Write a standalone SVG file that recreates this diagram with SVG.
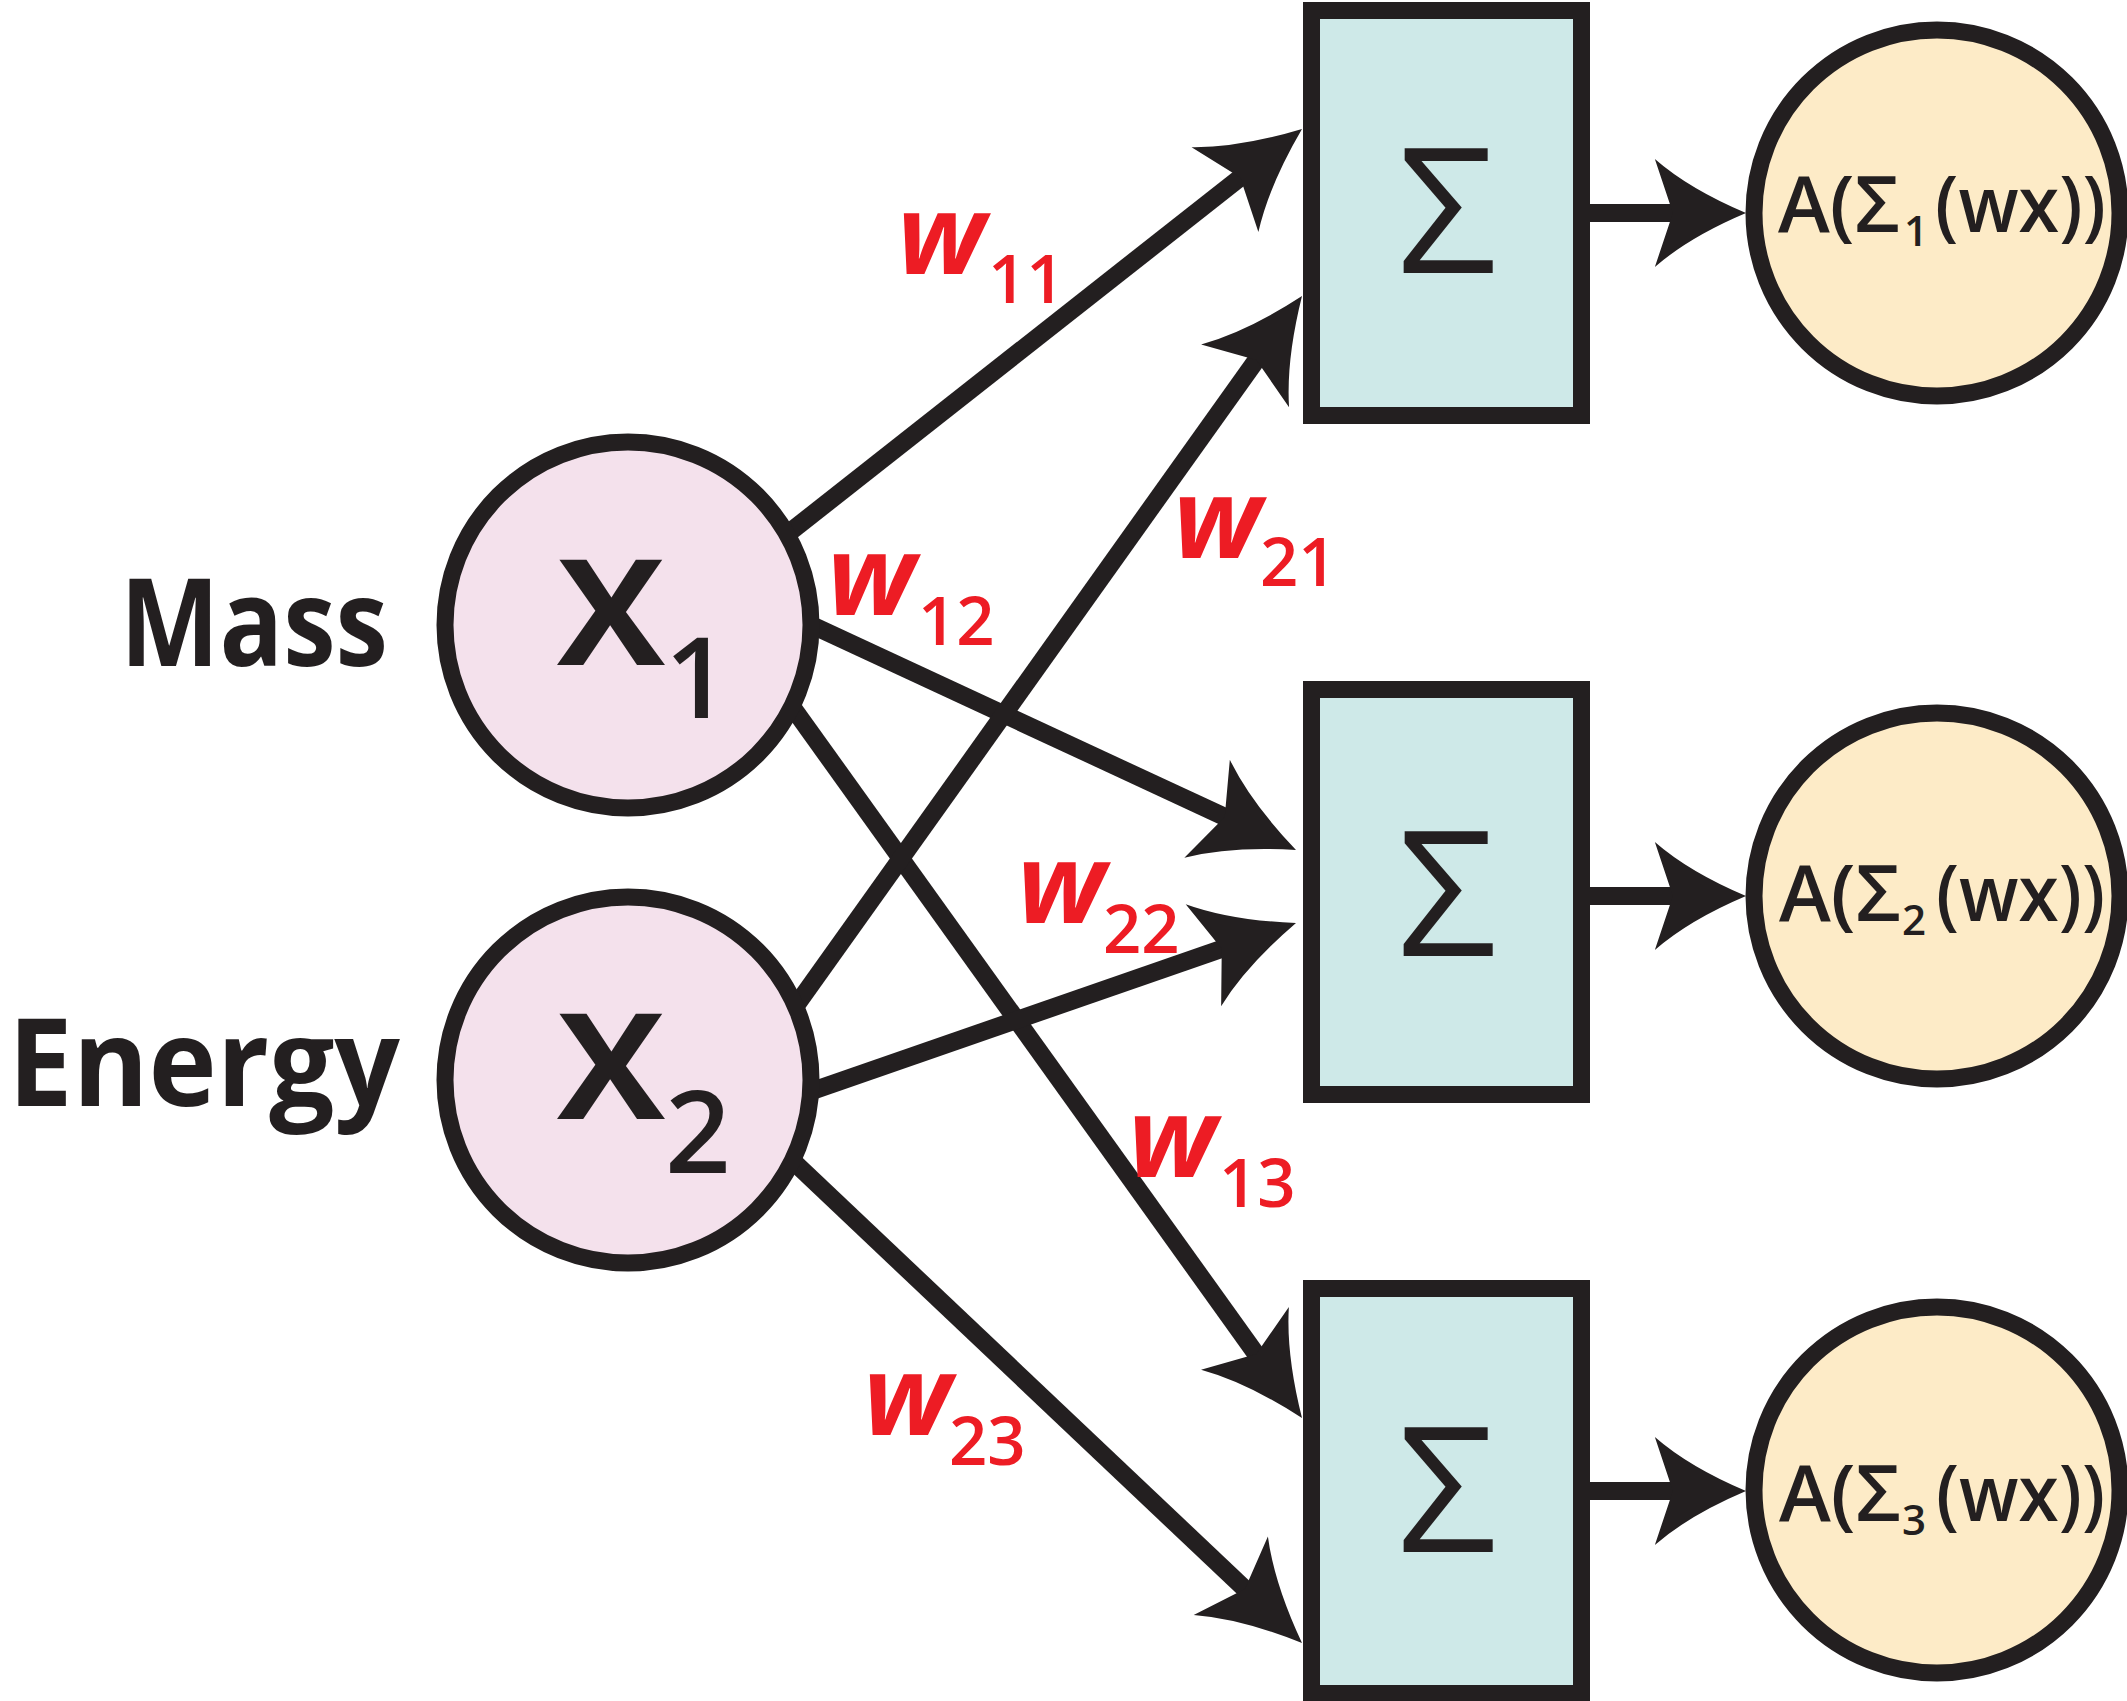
<svg xmlns="http://www.w3.org/2000/svg" xmlns:xlink="http://www.w3.org/1999/xlink" width="2127" height="1701" viewBox="0 0 2127 1701">
<style>
.ln{stroke:#231F20;stroke-width:18;fill:none;stroke-linecap:butt}
.ah{fill:#231F20}
.inp{fill:#F4E1EC;stroke:#231F20;stroke-width:17}
.sum{fill:#CEE9E8;stroke:#231F20;stroke-width:17}
.out{fill:#FDEBC7;stroke:#231F20;stroke-width:17}
.lab{font-family:"Open Sans","Noto Sans","Liberation Sans",sans-serif;fill:#231F20}
.w{font-family:"Open Sans","Noto Sans","Liberation Sans",sans-serif;fill:#ED1C24;font-weight:700;font-style:italic;font-size:112px}
.ws{font-family:"Open Sans","Noto Sans","Liberation Sans",sans-serif;fill:#ED1C24;font-weight:600;font-size:67px}
.sig{font-family:"Open Sans","Noto Sans","Liberation Sans",sans-serif;fill:#231F20;font-size:175px;font-weight:500;text-anchor:middle}
.ot{font-family:"Open Sans","Noto Sans","Liberation Sans",sans-serif;fill:#231F20;font-weight:600;font-size:77px}
.os{font-family:"Open Sans","Noto Sans","Liberation Sans",sans-serif;fill:#231F20;font-weight:600;font-size:42px}
</style>
<defs>
<path id="ah" class="ah" d="M0,0 Q-61,-24 -98,-54 L-78.6,0 L-98,54 Q-61,24 0,0 Z"/>
</defs>

<g id="connectors">
<line class="ln" x1="779.3" y1="540.4" x2="1242.3" y2="176"/>
<use xlink:href="#ah" transform="translate(1302,129) rotate(-38.2)"/>
<line class="ln" x1="799.9" y1="619.6" x2="1227.1" y2="818"/>
<use xlink:href="#ah" transform="translate(1296,850) rotate(24.9)"/>
<line class="ln" x1="781.3" y1="691.7" x2="1257.7" y2="1356.2"/>
<use xlink:href="#ah" transform="translate(1302,1418) rotate(54.4)"/>
<line class="ln" x1="788.4" y1="1016.3" x2="1257.9" y2="357.9"/>
<use xlink:href="#ah" transform="translate(1302,296) rotate(-54.5)"/>
<line class="ln" x1="799.1" y1="1095.6" x2="1224.2" y2="947.9"/>
<use xlink:href="#ah" transform="translate(1296,923) rotate(-19.15)"/>
<line class="ln" x1="781.5" y1="1150.3" x2="1246.8" y2="1590.8"/>
<use xlink:href="#ah" transform="translate(1302,1643) rotate(43.4)"/>
<line class="ln" x1="1585" y1="213" x2="1680" y2="213"/>
<use xlink:href="#ah" transform="translate(1746,213) scale(0.93,1)"/>
<line class="ln" x1="1585" y1="896" x2="1680" y2="896"/>
<use xlink:href="#ah" transform="translate(1746,896) scale(0.93,1)"/>
<line class="ln" x1="1585" y1="1491" x2="1680" y2="1491"/>
<use xlink:href="#ah" transform="translate(1746,1491) scale(0.93,1)"/>
</g>

<g id="weights">
<text class="w" x="897" y="274">w</text><text class="ws" x="988" y="303">11</text>
<text class="w" x="827" y="615">w</text><text class="ws" x="918" y="645">12</text>
<text class="w" x="1173" y="558">w</text><text class="ws" x="1260" y="586">21</text>
<text class="w" x="1017" y="923">w</text><text class="ws" x="1103" y="953">22</text>
<text class="w" x="1128" y="1177">w</text><text class="ws" x="1219" y="1207">13</text>
<text class="w" x="863" y="1435">w</text><text class="ws" x="949" y="1465">23</text>
</g>

<g id="label-mass"><text class="lab" x="120" y="666" font-size="122" font-weight="700" textLength="268" lengthAdjust="spacingAndGlyphs">Mass</text></g>
<g id="label-energy"><text class="lab" x="8" y="1106" font-size="122" font-weight="700" textLength="392" lengthAdjust="spacingAndGlyphs">Energy</text></g>

<g id="x1">
<circle class="inp" cx="628" cy="625" r="183"/>
<text class="lab" x="557" y="665" font-size="147" font-weight="700" textLength="108" lengthAdjust="spacingAndGlyphs">X</text>
<text class="lab" x="697" y="718" font-size="113" font-weight="600" text-anchor="middle">1</text>
</g>
<g id="x2">
<circle class="inp" cx="628" cy="1080" r="183"/>
<text class="lab" x="557" y="1119" font-size="147" font-weight="700" textLength="108" lengthAdjust="spacingAndGlyphs">X</text>
<text class="lab" x="698" y="1173" font-size="115" font-weight="600" text-anchor="middle">2</text>
</g>

<g id="sum1"><rect class="sum" x="1311.5" y="10.5" width="270" height="405"/><text class="sig" x="1447" y="273">Σ</text></g>
<g id="sum2"><rect class="sum" x="1311.5" y="689.5" width="270" height="405"/><text class="sig" x="1447" y="956">Σ</text></g>
<g id="sum3"><rect class="sum" x="1311.5" y="1288.5" width="270" height="405"/><text class="sig" x="1447" y="1552">Σ</text></g>

<g id="out1">
<circle class="out" cx="1937" cy="213" r="183"/>
<text class="ot" x="1778" y="232" textLength="122" lengthAdjust="spacingAndGlyphs">A(Σ</text>
<text class="os" x="1904" y="246">1</text>
<text class="ot" x="1935" y="232" textLength="171" lengthAdjust="spacingAndGlyphs">(wx))</text>
</g>
<g id="out2">
<circle class="out" cx="1937" cy="896" r="183"/>
<text class="ot" x="1779" y="921" textLength="122" lengthAdjust="spacingAndGlyphs">A(Σ</text>
<text class="os" x="1902" y="935">2</text>
<text class="ot" x="1936" y="921" textLength="169" lengthAdjust="spacingAndGlyphs">(wx))</text>
</g>
<g id="out3">
<circle class="out" cx="1937" cy="1490" r="183"/>
<text class="ot" x="1779" y="1521" textLength="122" lengthAdjust="spacingAndGlyphs">A(Σ</text>
<text class="os" x="1902" y="1535">3</text>
<text class="ot" x="1936" y="1521" textLength="169" lengthAdjust="spacingAndGlyphs">(wx))</text>
</g>
</svg>
